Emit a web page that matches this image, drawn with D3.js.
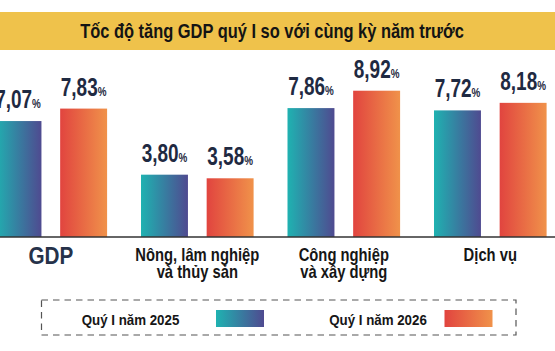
<!DOCTYPE html>
<html>
<head>
<meta charset="utf-8">
<script src="https://cdn.jsdelivr.net/npm/d3@7"></script>
<style>
    body { margin: 0; background: #fff; }
    svg { display: block; }
    text { font-family: "Liberation Sans", Arial, sans-serif; font-weight: bold; }
</style>
</head>
<body>
<svg id="chart" width="555" height="351"></svg>
<script>
// chart data
let categories = ["GDP", "Nông, lâm nghiệp và thủy sản", "Công nghiệp và xây dựng", "Dịch vụ"];
let categoryLines = [["GDP"], ["Nông, lâm nghiệp", "và thủy sản"], ["Công nghiệp", "và xây dựng"], ["Dịch vụ"]];
let seriesNames = ["Quý I năm 2025", "Quý I năm 2026"];
let values2025 = [7.07, 3.80, 7.86, 7.72];
let values2026 = [7.83, 3.58, 8.92, 8.18];
let title = "Tốc độ tăng GDP quý I so với cùng kỳ năm trước";

let svg = d3.select("#chart");
let width = parseInt(svg.attr("width"));
let height = parseInt(svg.attr("height"));

let baseline = 237;

// no narrow font installed, so squeeze the text horizontally
function place(sel, x, y, sx) {
    sel.attr("transform", "translate(" + x + "," + y + ") scale(" + sx + ",1)");
}

// gradients for both series
let defs = svg.append("defs");
let gradColors = [["#1fb2b1", "#4f4a90"], ["#e1443f", "#f0924a"]];
gradColors.forEach(function (c, i) {
    let g = defs.append("linearGradient")
        .attr("id", "grad" + i)
        .attr("x1", "0%").attr("x2", "100%")
        .attr("y1", "0%").attr("y2", "0%");
    g.append("stop").attr("offset", "0%").attr("stop-color", c[0]);
    g.append("stop").attr("offset", "100%").attr("stop-color", c[1]);
});

// title band
svg.append("rect")
    .attr("x", 0).attr("y", 12)
    .attr("width", width).attr("height", 38)
    .attr("fill", "#efc24b");

let titleText = svg.append("text")
    .attr("text-anchor", "middle")
    .style("font-size", "19.5px")
    .attr("fill", "#141414")
    .text(title);
let titleLen = titleText.node().getComputedTextLength();
place(titleText, 272, 37.5, 384 / titleLen);

// scales
let x0 = d3.scaleBand()
    .domain(categories)
    .range([-5.5, -5.5 + 3 * 146.5 + 112.6])
    .paddingInner(1 - 112.6 / 146.5)
    .paddingOuter(0);

let x1 = d3.scaleBand()
    .domain(seriesNames)
    .range([0, x0.bandwidth()])
    .paddingInner(0.285)
    .paddingOuter(0);

let y = d3.scaleLinear()
    .domain([0, 10])
    .range([baseline, baseline - 164]);

let rows = categories.map(function (c, i) {
    return {category: c, lines: categoryLines[i], values: [values2025[i], values2026[i]]};
});

let groups = svg.selectAll("g.group")
    .data(rows)
    .enter().append("g")
    .attr("class", "group")
    .attr("transform", d => "translate(" + x0(d.category) + ",0)");

groups.selectAll("rect")
    .data(d => d.values.map((v, i) => ({series: seriesNames[i], idx: i, value: v})))
    .enter().append("rect")
    .attr("x", d => x1(d.series))
    .attr("y", d => y(d.value))
    .attr("width", x1.bandwidth())
    .attr("height", d => baseline - y(d.value))
    .attr("fill", d => "url(#grad" + d.idx + ")");

// value labels
let labels = groups.selectAll("text.value")
    .data(d => d.values.map((v, i) => ({series: seriesNames[i], value: v})))
    .enter().append("text")
    .attr("class", "value")
    .attr("text-anchor", "middle")
    .attr("fill", "#1f2a42")
    .style("font-size", "26px")
    .each(function (d) {
        place(d3.select(this), x1(d.series) + x1.bandwidth() / 2, y(d.value) - 13, 0.73);
    });

labels.append("tspan")
    .text(d => d.value.toFixed(2).replace(".", ","));
labels.append("tspan")
    .style("font-size", "13.5px")
    .text("%");

// baseline
svg.append("line")
    .attr("x1", 0).attr("x2", width)
    .attr("y1", baseline).attr("y2", baseline)
    .attr("stroke", "#333")
    .attr("stroke-width", 1.5);

// category labels
let catLabels = groups.append("text")
    .attr("text-anchor", "middle")
    .attr("fill", (d, i) => i === 0 ? "#26324a" : "#161616")
    .style("font-size", (d, i) => i === 0 ? "23px" : "17.5px")
    .each(function (d, i) {
        place(d3.select(this), x0.bandwidth() / 2, i === 0 ? 264 : 261, i === 0 ? 0.9 : 0.845);
    });

catLabels.selectAll("tspan")
    .data(d => d.lines)
    .enter().append("tspan")
    .attr("x", 0)
    .attr("dy", (d, i) => i === 0 ? 0 : 17.5)
    .text(d => d);

// legend
svg.append("rect")
    .attr("x", 41.5).attr("y", 300)
    .attr("width", 474.5).attr("height", 35)
    .attr("fill", "none")
    .attr("stroke", "#555")
    .attr("stroke-width", 1.2)
    .attr("stroke-dasharray", "6.5,5");

let legendText = [130.5, 378];
let legendSwatch = [216, 444.5];
seriesNames.forEach(function (s, i) {
    let t = svg.append("text")
        .attr("text-anchor", "middle")
        .style("font-size", "15.5px")
        .attr("fill", "#161616")
        .text(s);
    place(t, legendText[i], 324.5, 0.86);
    svg.append("rect")
        .attr("x", legendSwatch[i]).attr("y", 310)
        .attr("width", 48).attr("height", 17)
        .attr("fill", "url(#grad" + i + ")");
});
</script>
</body>
</html>
